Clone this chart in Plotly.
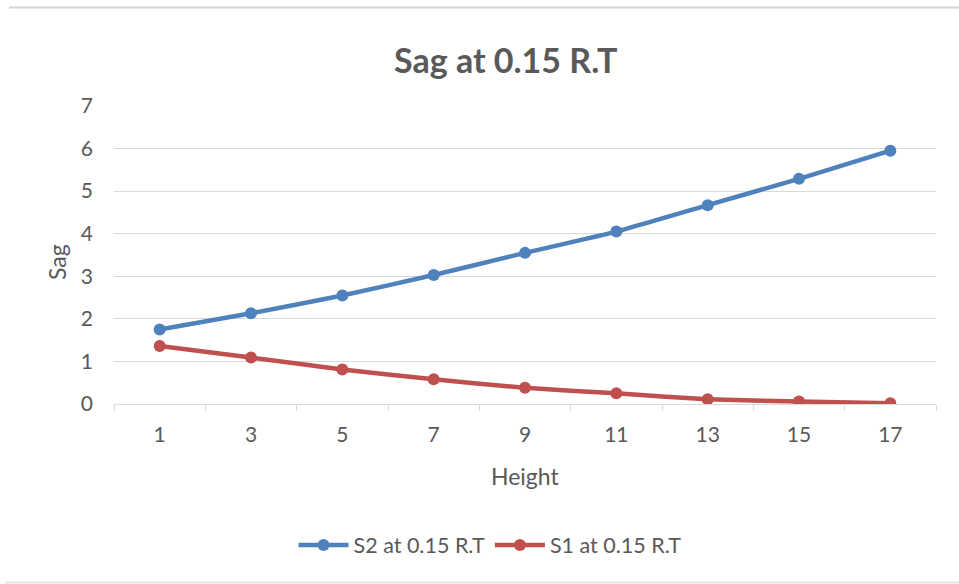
import plotly.graph_objects as go

# Chart data
heights = ["1", "3", "5", "7", "9", "11", "13", "15", "17"]
s2_sag = [1.75, 2.13, 2.55, 3.03, 3.55, 4.05, 4.67, 5.29, 5.95]
s1_sag = [1.36, 1.09, 0.81, 0.58, 0.38, 0.25, 0.11, 0.06, 0.02]
y_ticks = [0, 1, 2, 3, 4, 5, 6, 7]

W, H = 959, 584
L, R, T, B = 114, 23, 106, 180
plot_w = W - L - R
plot_h = H - T - B

def px_x(px):
    return (px - L) / plot_w

def px_y(py):
    return (H - B - py) / plot_h

TEXT = "#595959"
GRID = "#d9d9d9"
FONT = "Lato, 'Open Sans', sans-serif"

fig = go.Figure()
fig.add_trace(go.Scatter(
    x=heights, y=s2_sag, name="S2 at 0.15 R.T", mode="lines+markers",
    line=dict(color="#4F81BD", width=4.5, shape="spline", smoothing=0.4),
    marker=dict(color="#4F81BD", size=12),
))
fig.add_trace(go.Scatter(
    x=heights, y=s1_sag, name="S1 at 0.15 R.T", mode="lines+markers",
    line=dict(color="#C0504D", width=4.5, shape="spline", smoothing=0.4),
    marker=dict(color="#C0504D", size=12),
))

fig.update_layout(
    width=W, height=H,
    margin=dict(l=L, r=R, t=T, b=B),
    paper_bgcolor="white", plot_bgcolor="white",
    font=dict(family=FONT, color=TEXT, size=21),
    showlegend=True,
    legend=dict(orientation="h", x=px_x(490), xanchor="center",
                y=px_y(545), yanchor="middle",
                font=dict(size=21.5, color=TEXT), itemwidth=50),
    annotations=[
        dict(text="<b>Sag at 0.15 R.T</b>", x=px_x(505), y=px_y(60),
             xref="paper", yref="paper", showarrow=False,
             xanchor="center", yanchor="middle",
             font=dict(size=34, color=TEXT, family=FONT)),
        dict(text="Height", x=px_x(525), y=px_y(476),
             xref="paper", yref="paper", showarrow=False,
             xanchor="center", yanchor="middle",
             font=dict(size=23, color=TEXT)),
        dict(text="Sag", x=px_x(57), y=px_y(262), textangle=-90,
             xref="paper", yref="paper", showarrow=False,
             xanchor="center", yanchor="middle",
             font=dict(size=23, color=TEXT)),
    ],
    shapes=[
        dict(type="line", xref="paper", yref="paper",
             x0=px_x(9), x1=px_x(959), y0=px_y(7.5), y1=px_y(7.5),
             line=dict(color="#d4d4d4", width=2)),
        dict(type="line", xref="paper", yref="paper",
             x0=px_x(5), x1=px_x(959), y0=px_y(582.5), y1=px_y(582.5),
             line=dict(color="#e6e6e6", width=2)),
    ],
)

fig.update_xaxes(
    type="category", range=[-0.5, 8.5],
    showgrid=False, showline=True, linecolor=GRID, linewidth=1,
    ticks="outside", tickson="boundaries", ticklen=6, tickcolor=GRID,
    tickfont=dict(size=21, color=TEXT), zeroline=False,
    ticklabelstandoff=12,
)
fig.update_yaxes(
    range=[0, 7], tickvals=y_ticks, showgrid=True, gridcolor=GRID, gridwidth=1,
    showline=False, zeroline=False, ticks="", ticklabelstandoff=20,
    tickfont=dict(size=21, color=TEXT),
)

fig.write_html("out.html")
